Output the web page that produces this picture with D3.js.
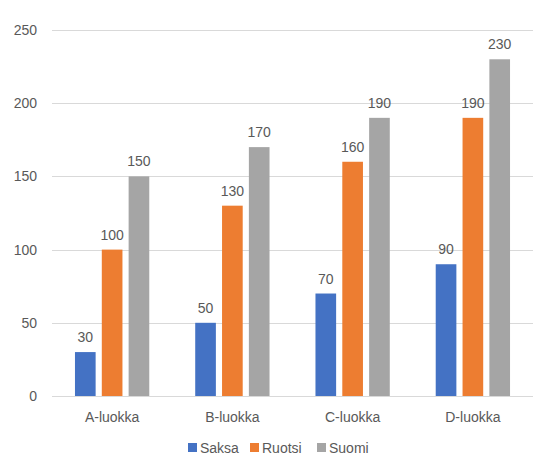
<!DOCTYPE html>
<html>
<head>
<meta charset="utf-8">
<script src="https://cdn.jsdelivr.net/npm/d3@7"></script>
<style>
  body { margin: 0; background: #fff; }
  text { font-family: "Liberation Sans", "DejaVu Sans", sans-serif; fill: #595959; }
</style>
</head>
<body>
<div id="chart"></div>
<script>
// chart data
const categories = ["A-luokka", "B-luokka", "C-luokka", "D-luokka"];
const seriesNames = ["Saksa", "Ruotsi", "Suomi"];
const saksa = [30, 50, 70, 90];
const ruotsi = [100, 130, 160, 190];
const suomi = [150, 170, 190, 230];
const yTicks = [0, 50, 100, 150, 200, 250];

const colors = ["#4472C4", "#ED7D31", "#A5A5A5"];
const seriesValues = [saksa, ruotsi, suomi];

const width = 550;
const height = 469;
const margin = {left: 52, right: 17, top: 30, bottom: 73};

const svg = d3.select("#chart")
  .append("svg")
  .attr("width", width)
  .attr("height", height);

// scales
const yScale = d3.scaleLinear()
  .domain([0, 250])
  .range([height - margin.bottom, margin.top]);

const xScale = d3.scaleBand()
  .domain(categories)
  .range([margin.left, width - margin.right])
  .paddingInner(0.382)
  .paddingOuter(0.191);

const xInner = d3.scaleBand()
  .domain(seriesNames)
  .range([0, xScale.bandwidth()])
  .paddingInner(0.23);

// gridlines
svg.append("g")
  .selectAll("line")
  .data(yTicks)
  .enter()
  .append("line")
    .attr("x1", margin.left)
    .attr("x2", width - margin.right)
    .attr("y1", d => Math.round(yScale(d)) + 0.5)
    .attr("y2", d => Math.round(yScale(d)) + 0.5)
    .attr("stroke", "#D9D9D9")
    .attr("stroke-width", 1);

// y tick labels
svg.append("g")
  .selectAll("text")
  .data(yTicks)
  .enter()
  .append("text")
    .attr("x", 37)
    .attr("y", d => yScale(d) + 5)
    .attr("text-anchor", "end")
    .attr("font-size", "14px")
    .text(d => d);

// bars + labels
const rows = categories.map((c, i) => ({cat: c, vals: seriesNames.map((s, j) => ({name: s, v: seriesValues[j][i], k: j}))}));

const groups = svg.selectAll(".grp")
  .data(rows)
  .enter()
  .append("g")
    .attr("class", "grp")
    .attr("transform", d => `translate(${xScale(d.cat)},0)`);

groups.selectAll("rect")
  .data(d => d.vals)
  .enter()
  .append("rect")
    .attr("x", d => xInner(d.name))
    .attr("y", d => yScale(d.v))
    .attr("width", xInner.bandwidth())
    .attr("height", d => yScale(0) - yScale(d.v))
    .attr("fill", d => colors[d.k]);

groups.selectAll(".lbl")
  .data(d => d.vals)
  .enter()
  .append("text")
    .attr("class", "lbl")
    .attr("x", d => xInner(d.name) + xInner.bandwidth() / 2)
    .attr("y", d => yScale(d.v) - 10)
    .attr("text-anchor", "middle")
    .attr("font-size", "14px")
    .text(d => d.v);

// x axis labels
svg.append("g")
  .selectAll("text")
  .data(categories)
  .enter()
  .append("text")
    .attr("x", d => xScale(d) + xScale.bandwidth() / 2)
    .attr("y", 422)
    .attr("text-anchor", "middle")
    .attr("font-size", "14px")
    .text(d => d);

// legend
const legendX = [188, 250, 317];
const legend = svg.append("g")
  .selectAll("g")
  .data(seriesNames)
  .enter()
  .append("g")
    .attr("transform", (d, i) => `translate(${legendX[i]},443)`);

legend.append("rect")
  .attr("width", 9)
  .attr("height", 9)
  .attr("fill", (d, i) => colors[i]);

legend.append("text")
  .attr("x", 12)
  .attr("y", 10)
  .attr("font-size", "14px")
  .text(d => d);
</script>
</body>
</html>
